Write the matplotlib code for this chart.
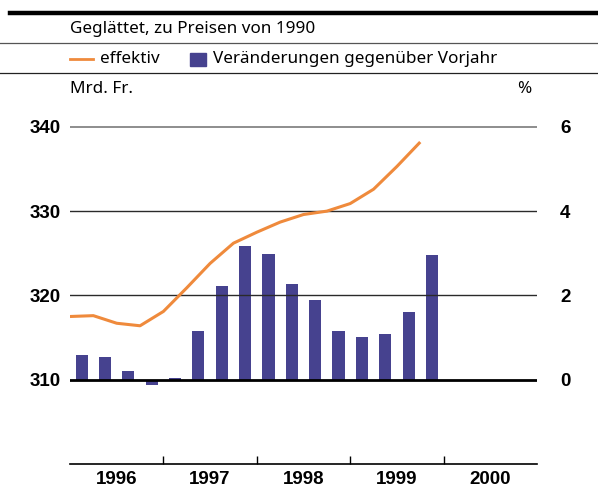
import numpy as np
import matplotlib
matplotlib.use("Agg")
import matplotlib.pyplot as plt
from matplotlib.lines import Line2D
from matplotlib.patches import Rectangle

plt.rcParams['font.family'] = ['Noto Sans', 'DejaVu Sans']
BOLD_FONT = ['Liberation Sans', 'DejaVu Sans']

W, H = 598, 488

# quarterly data 1996 Q1 .. 1999 Q4
gdp_level = [317.5, 317.6, 316.7, 316.4, 318.1, 320.9, 323.8, 326.2,
             327.5, 328.7, 329.6, 330.0, 330.9, 332.6, 335.3, 338.2]
gdp_change = [0.59, 0.55, 0.21, -0.12, 0.03, 1.16, 2.23, 3.18,
              2.99, 2.28, 1.90, 1.16, 1.02, 1.09, 1.61, 2.96]
years = ['1996', '1997', '1998', '1999', '2000']
left_ticks = [310, 320, 330, 340]
right_ticks = [0, 2, 4, 6]

line_color = '#EF8A3C'
bar_color = '#46428F'


def fx(x):
    return x / W


def fy(y):
    return 1 - y / H


fig = plt.figure(figsize=(W / 100, H / 100), dpi=100)
ax = fig.add_axes([fx(70), fy(464), fx(537) - fx(70), fy(110) - fy(464)])
ax2 = ax.twinx()

n = len(gdp_level)
q = np.arange(n)

# bars on the percent axis, centred in each quarter
ax2.bar(q + 0.5, gdp_change, width=0.52, color=bar_color, zorder=2)
# line on the level axis, at quarter starts
ax.plot(q, gdp_level, color=line_color, lw=2.2, zorder=3, solid_capstyle='butt')

ax.set_xlim(0, 20)
ax.set_ylim(300, 342)
ax2.set_ylim(-2, 6.4)

# horizontal rules
ax.axhline(340, color='#7a7a7a', lw=1.2, zorder=1)
ax.axhline(330, color='#2a2a2a', lw=1.0, zorder=1)
ax.axhline(320, color='#2a2a2a', lw=1.0, zorder=1)
ax.axhline(310, color='black', lw=2.0, zorder=4)

ax.set_zorder(ax2.get_zorder() + 1)
ax.patch.set_visible(False)

for a in (ax, ax2):
    for s in ('top', 'left', 'right'):
        a.spines[s].set_visible(False)
ax2.spines['bottom'].set_visible(False)
ax.spines['bottom'].set_linewidth(1.2)

ax.set_yticks(left_ticks)
ax.set_yticklabels([str(v) for v in left_ticks], fontsize=13.5,
                   fontweight='bold', family=BOLD_FONT)
ax.tick_params(axis='y', length=0, pad=7)
ax2.set_yticks(right_ticks)
ax2.set_yticklabels([str(v) for v in right_ticks], fontsize=13.5,
                    fontweight='bold', family=BOLD_FONT)
ax2.tick_params(axis='y', length=0, pad=16.5)

# year boundaries as ticks, labels in the middle of each year
ax.set_xticks([4, 8, 12, 16])
ax.set_xticklabels([])
ax.tick_params(axis='x', which='major', direction='in', length=5.5, width=1)
ax.set_xticks([2, 6, 10, 14, 18], minor=True)
ax.set_xticklabels(years, minor=True, fontsize=13.5, fontweight='bold',
                   family=BOLD_FONT)
ax.tick_params(axis='x', which='minor', length=0, pad=5)

# header block
fig.add_artist(Line2D([fx(10), 1], [fy(13), fy(13)], color='black', lw=3.2))
fig.add_artist(Line2D([0, 1], [fy(43), fy(43)], color='#555555', lw=0.9))
fig.add_artist(Line2D([0, 1], [fy(73), fy(73)], color='#222222', lw=0.9))

fig.text(fx(70), fy(29), 'Geglättet, zu Preisen von 1990', fontsize=12.3,
         va='center', ha='left')
fig.add_artist(Line2D([fx(70), fx(93)], [fy(58.5), fy(58.5)], color=line_color, lw=2))
fig.text(fx(100), fy(59), 'effektiv', fontsize=12.3, va='center', ha='left')
fig.add_artist(Rectangle((fx(190), fy(66)), fx(16), fy(53) - fy(66),
                         color=bar_color, transform=fig.transFigure))
fig.text(fx(213), fy(59), 'Veränderungen gegenüber Vorjahr', fontsize=12.3,
         va='center', ha='left')
fig.text(fx(70), fy(89), 'Mrd. Fr.', fontsize=12.3, va='center', ha='left')
fig.text(fx(524), fy(89), '%', fontsize=12.3, va='center', ha='center')

fig.savefig('out.png', dpi=100)
